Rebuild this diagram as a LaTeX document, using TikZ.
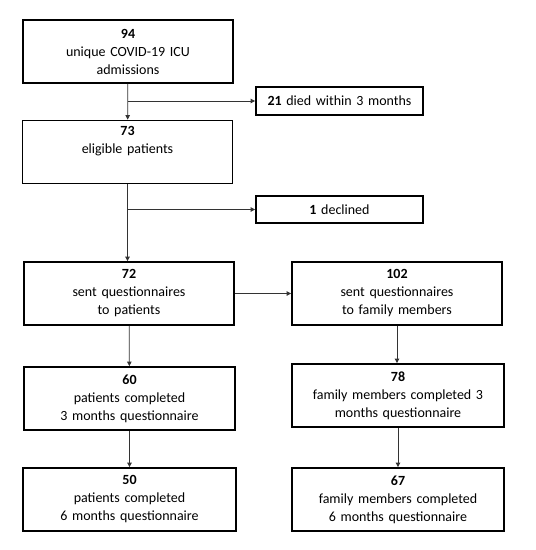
\documentclass[tikz,border=0pt]{standalone}
\usepackage{fontspec}
\setmainfont{Carlito}
\usepackage{tikz}
\usetikzlibrary{arrows.meta,positioning}
\tikzset{
  fbox/.style={rectangle, draw=black, line width=1.8pt, fill=white, align=center, font=\fontsize{14}{18}\selectfont, inner sep=2pt, text width=#1, minimum width=#1, minimum height=63pt},
  fbox/.default=206pt,
  sidebox/.style={fbox=163pt, minimum height=27.5pt},
  farrow/.style={-{Triangle[length=4.5pt,width=4.5pt]}, line width=0.8pt, black!80}
}

\begin{document}
\begin{tikzpicture}[x=1pt,y=-1pt]
\useasboundingbox (0,0) rectangle (536,550);
% left column
\node[fbox] (adm) at (128,51.5) {\textbf{94}\\unique COVID-19 ICU\\admissions};
\node[fbox] (elig) at (127.5,152) {\textbf{73}\\eligible patients\\\strut};
\node[fbox] (sentp) at (129,293.5) {\textbf{72}\\sent questionnaires\\to patients};
\node[fbox=207pt] (pat3) at (129.5,398.5) {\textbf{60}\\patients completed\\3 months questionnaire};
\node[fbox=209pt] (pat6) at (129.5,499.5) {\textbf{50}\\patients completed\\6 months questionnaire};
% exclusions
\node[sidebox] (died) at (339.5,101) {\textbf{21} died within 3 months};
\node[sidebox] (decl) at (339.5,209.5) {\textbf{1} declined};
% right column
\node[fbox] (sentf) at (397,293.5) {\textbf{102}\\sent questionnaires\\to family members};
\node[fbox=208pt] (fam3) at (398,395.5) {\textbf{78}\\family members completed 3\\months questionnaire};
\node[fbox=208pt] (fam6) at (398,499.5) {\textbf{67}\\family members completed\\6 months questionnaire};
% connectors
\draw[farrow] (adm) -- (elig);
\draw[farrow] (adm.south |- died.west) -- (died.west);
\draw[farrow] (elig.south) -- (elig.south |- sentp.north);
\draw[farrow] (elig.south |- decl.west) -- (decl.west);
\draw[farrow] (sentp) -- (sentf);
\draw[farrow] (sentp) -- (pat3);
\draw[farrow] (pat3) -- (pat6);
\draw[farrow] (sentf.south) -- (sentf.south |- fam3.north);
\draw[farrow] (fam3.south) -- (fam3.south |- fam6.north);
\end{tikzpicture}
\end{document}
